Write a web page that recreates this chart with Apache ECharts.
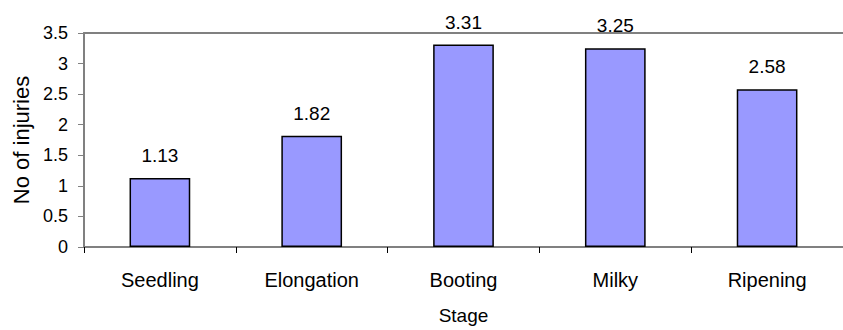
<!DOCTYPE html>
<html>
<head>
<meta charset="utf-8">
<script src="https://cdn.jsdelivr.net/npm/echarts@6/dist/echarts.min.js"></script>
<style>
  html, body { margin: 0; padding: 0; background: #fff; }
  #chart { width: 843px; height: 330px; }
</style>
</head>
<body>
<div id="chart"></div>
<script>
// Mean number of injuries per growth stage
const stages = ['Seedling', 'Elongation', 'Booting', 'Milky', 'Ripening'];
const injuries = [1.13, 1.82, 3.31, 3.25, 2.58];
const yTicks = [0, 0.5, 1, 1.5, 2, 2.5, 3, 3.5];

const font = 'Liberation Sans, Arial, sans-serif';
const axisGray = '#808080';

const chart = echarts.init(document.getElementById('chart'), null, { renderer: 'svg' });
chart.setOption({
  animation: false,
  grid: { left: 84, right: -11, top: 33, bottom: 82, containLabel: false },
  xAxis: [
    {
      type: 'category',
      data: stages,
      name: 'Stage',
      nameLocation: 'middle',
      nameGap: 59,
      nameTextStyle: { color: '#000', fontFamily: font, fontSize: 19 },
      axisLine: { lineStyle: { color: axisGray, width: 2 } },
      axisTick: { show: true, length: 6, lineStyle: { color: '#000', width: 1 } },
      axisLabel: { color: '#000', fontFamily: font, fontSize: 20, margin: 23 }
    },
    {
      // plain line closing the plot at its top edge
      type: 'category',
      position: 'top',
      data: stages,
      axisLine: { show: true, lineStyle: { color: axisGray, width: 2 } },
      axisTick: { show: false },
      axisLabel: { show: false }
    }
  ],
  yAxis: {
    type: 'value',
    min: yTicks[0],
    max: yTicks[yTicks.length - 1],
    interval: 0.5,
    name: 'No of injuries',
    nameLocation: 'middle',
    nameGap: 50,
    nameTextStyle: { color: '#000', fontFamily: font, fontSize: 22 },
    axisLine: { show: true, lineStyle: { color: axisGray, width: 2 } },
    axisTick: { show: true, length: 6, lineStyle: { color: axisGray, width: 1 } },
    axisLabel: { color: '#000', fontFamily: font, fontSize: 18, margin: 16 },
    splitLine: { show: false }
  },
  series: [{
    type: 'bar',
    data: injuries,
    barWidth: '40%',
    itemStyle: { color: '#9999FF', borderColor: '#000', borderWidth: 1.5 },
    label: {
      show: true,
      position: 'top',
      distance: 13,
      color: '#000',
      fontFamily: font,
      fontSize: 19
    }
  }]
});
</script>
</body>
</html>
